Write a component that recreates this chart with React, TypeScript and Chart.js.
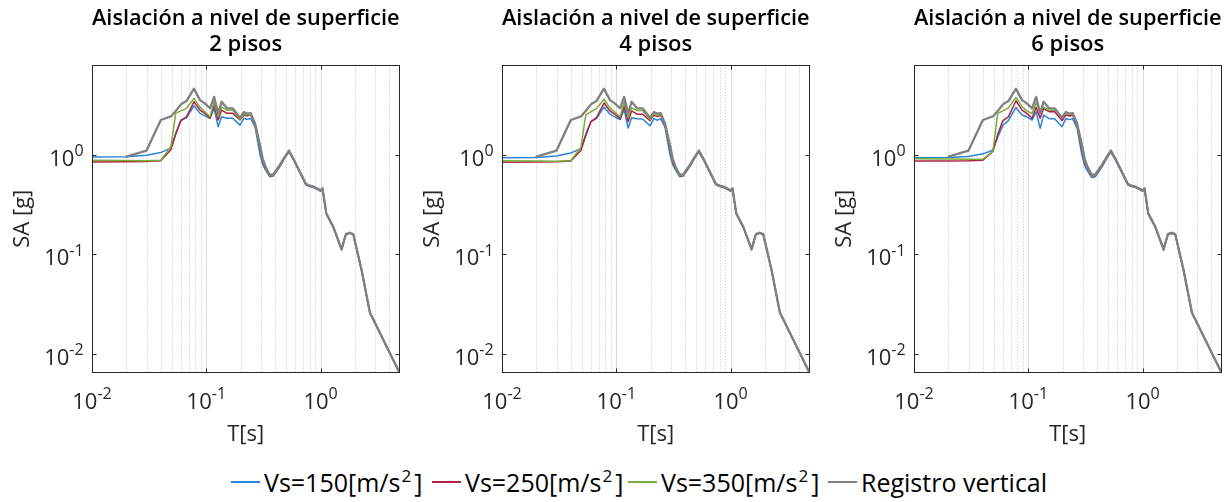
import { useEffect, useRef } from 'react';
import { Chart, registerables } from 'chart.js';

Chart.register(...registerables);

// Periods T [s] shared by every spectrum
const periods = [
  0.01, 0.02, 0.03, 0.04, 0.049, 0.054, 0.06, 0.067, 0.078, 0.088, 0.097, 0.108,
  0.117, 0.127, 0.136, 0.152, 0.17, 0.197, 0.213, 0.23, 0.244, 0.267, 0.295, 0.311,
  0.326, 0.359, 0.385, 0.44, 0.487, 0.528, 0.576, 0.659, 0.743, 0.8, 0.861, 0.93,
  1.0, 1.04, 1.12, 1.29, 1.526, 1.665, 1.8, 1.93, 2.28, 2.7, 4.9,
];

// Recorded vertical spectrum SA [g] (starts at T = 0.02 s)
const registroVertical = [
  null, 0.955, 1.1, 2.23, 2.42, 2.75, 3.2, 3.45, 4.6, 3.53, 3.27, 2.92,
  3.81, 2.6, 3.4, 2.92, 2.92, 2.35, 2.68, 2.58, 2.62, 2.06, 1.25, 0.92,
  0.78, 0.626, 0.636, 0.79, 0.955, 1.1, 0.92, 0.675, 0.51, 0.49, 0.48, 0.46,
  0.44, 0.46, 0.259, 0.19, 0.113, 0.16, 0.165, 0.16, 0.07, 0.0261, 0.0065,
];

// 2 pisos
const vs150Pisos2 = [
  0.95, 0.955, 0.99, 1.05, 1.17, 1.64, 2.23, 2.35, 3.1, 2.6, 2.45, 2.32,
  2.92, 1.91, 2.4, 2.32, 2.32, 1.98, 2.32, 2.26, 2.32, 1.9, 1.0, 0.8,
  0.72, 0.6, 0.61, 0.76, 0.93, 1.07, 0.9, 0.66, 0.5, 0.48, 0.47, 0.45,
  0.43, 0.45, 0.255, 0.187, 0.111, 0.158, 0.163, 0.158, 0.069, 0.0258, 0.0065,
];
const vs250Pisos2 = [
  0.845, 0.85, 0.855, 0.87, 1.12, 1.6, 2.2, 2.4, 3.4, 2.8, 2.6, 2.32,
  3.15, 2.23, 2.8, 2.6, 2.6, 2.23, 2.5, 2.45, 2.55, 2.0, 1.15, 0.85,
  0.75, 0.61, 0.62, 0.77, 0.94, 1.08, 0.91, 0.665, 0.5, 0.485, 0.475, 0.455,
  0.435, 0.455, 0.256, 0.188, 0.112, 0.159, 0.164, 0.159, 0.0695, 0.026, 0.0065,
];
const vs350Pisos2 = [
  0.88, 0.875, 0.87, 0.88, 1.2, 2.6, 2.75, 2.92, 3.67, 3.0, 2.7, 2.4,
  3.4, 2.4, 3.0, 2.8, 2.8, 2.26, 2.56, 2.5, 2.56, 2.02, 1.2, 0.88,
  0.77, 0.615, 0.625, 0.78, 0.945, 1.09, 0.915, 0.67, 0.505, 0.488, 0.477, 0.457,
  0.437, 0.457, 0.257, 0.189, 0.112, 0.159, 0.164, 0.159, 0.0697, 0.026, 0.0065,
];

// 4 pisos
const vs150Pisos4 = [
  0.93, 0.935, 0.97, 1.04, 1.15, 1.6, 2.15, 2.3, 3.0, 2.55, 2.4, 2.25,
  2.85, 1.85, 2.35, 2.3, 2.28, 1.95, 2.3, 2.22, 2.3, 1.88, 1.0, 0.8,
  0.72, 0.6, 0.61, 0.76, 0.93, 1.07, 0.9, 0.66, 0.5, 0.48, 0.47, 0.45,
  0.43, 0.45, 0.255, 0.187, 0.111, 0.158, 0.163, 0.158, 0.069, 0.0258, 0.0065,
];
const vs250Pisos4 = [
  0.84, 0.845, 0.85, 0.865, 1.1, 1.55, 2.15, 2.35, 3.3, 2.75, 2.55, 2.3,
  3.1, 2.15, 2.75, 2.55, 2.55, 2.2, 2.48, 2.42, 2.5, 1.98, 1.15, 0.85,
  0.75, 0.61, 0.62, 0.77, 0.94, 1.08, 0.91, 0.665, 0.5, 0.485, 0.475, 0.455,
  0.435, 0.455, 0.256, 0.188, 0.112, 0.159, 0.164, 0.159, 0.0695, 0.026, 0.0065,
];
const vs350Pisos4 = [
  0.87, 0.865, 0.86, 0.875, 1.18, 2.5, 2.7, 2.9, 3.6, 2.95, 2.68, 2.4,
  3.35, 2.38, 2.95, 2.78, 2.78, 2.25, 2.55, 2.48, 2.55, 2.0, 1.2, 0.88,
  0.77, 0.615, 0.625, 0.78, 0.945, 1.09, 0.915, 0.67, 0.505, 0.488, 0.477, 0.457,
  0.437, 0.457, 0.257, 0.189, 0.112, 0.159, 0.164, 0.159, 0.0697, 0.026, 0.0065,
];

// 6 pisos
const vs150Pisos6 = [
  0.93, 0.935, 0.96, 1.02, 1.11, 1.5, 1.98, 2.2, 2.98, 2.5, 2.4, 2.23,
  2.7, 1.84, 2.5, 2.3, 2.3, 1.91, 2.3, 2.25, 2.3, 1.85, 0.98, 0.78,
  0.7, 0.59, 0.6, 0.75, 0.92, 1.06, 0.89, 0.655, 0.5, 0.48, 0.47, 0.45,
  0.43, 0.45, 0.254, 0.186, 0.11, 0.157, 0.162, 0.157, 0.0685, 0.0257, 0.0065,
];
const vs250Pisos6 = [
  0.865, 0.865, 0.87, 0.88, 1.08, 1.6, 2.2, 2.4, 3.48, 2.8, 2.6, 2.32,
  3.0, 2.32, 2.9, 2.7, 2.7, 2.2, 2.5, 2.45, 2.5, 1.98, 1.12, 0.84,
  0.75, 0.61, 0.62, 0.77, 0.94, 1.08, 0.91, 0.665, 0.5, 0.485, 0.475, 0.455,
  0.435, 0.455, 0.256, 0.188, 0.112, 0.159, 0.164, 0.159, 0.0695, 0.026, 0.0065,
];
const vs350Pisos6 = [
  0.91, 0.905, 0.9, 0.9, 1.08, 2.6, 2.75, 2.95, 3.76, 3.05, 2.75, 2.6,
  3.3, 2.7, 3.0, 2.8, 2.8, 2.4, 2.6, 2.55, 2.6, 2.05, 1.18, 0.87,
  0.77, 0.615, 0.625, 0.78, 0.945, 1.09, 0.915, 0.67, 0.505, 0.488, 0.477, 0.457,
  0.437, 0.457, 0.257, 0.189, 0.112, 0.159, 0.164, 0.159, 0.0697, 0.026, 0.0065,
];

const titleLine = 'Aislación a nivel de superficie';
const panelSubtitles = ['2 pisos', '4 pisos', '6 pisos'];
const panelSeries = [
  [vs150Pisos2, vs250Pisos2, vs350Pisos2],
  [vs150Pisos4, vs250Pisos4, vs350Pisos4],
  [vs150Pisos6, vs250Pisos6, vs350Pisos6],
];

const seriesLabels = ['Vs=150[m/s^2]', 'Vs=250[m/s^2]', 'Vs=350[m/s^2]', 'Registro vertical'];
const seriesColors = ['#2a84d8', '#b02040', '#78ae38', '#808080'];
const seriesWidths = [1.5, 1.5, 1.5, 2.3];

const xDecadeTicks = [0.01, 0.1, 1];
const yDecadeTicks = [0.01, 0.1, 1];
const xMinorGrid = [
  0.02, 0.03, 0.04, 0.05, 0.06, 0.07, 0.08, 0.09,
  0.2, 0.3, 0.4, 0.5, 0.6, 0.7, 0.8, 0.9,
  2, 3, 4,
];
const xLimits = [0.01, 4.9];
const yLimits = [0.0065, 8];
const xAxisTitle = 'T[s]';
const yAxisTitle = 'SA [g]';

const FONT = "'Open Sans', 'Noto Sans', sans-serif";
const AXIS_COLOR = '#262626';
const CANVAS_W = 410;
const CANVAS_H = 460;
const PANEL_LEFTS = [0, 410, 822];
const LEGEND_LEFTS = [231, 432, 628, 828];

const toPoints = (vals: (number | null)[]) =>
  periods
    .map((t, i) => ({ x: t, y: vals[i] }))
    .filter((p) => p.y !== null) as { x: number; y: number }[];

const asLabel = (s: string) => s.replace('^2', '²');

function drawPower(
  ctx: CanvasRenderingContext2D,
  value: number,
  x: number,
  baseline: number,
  align: 'center' | 'right',
) {
  const exp = String(Math.round(Math.log10(value)));
  ctx.font = `22px ${FONT}`;
  const wBase = ctx.measureText('10').width;
  ctx.font = `16px ${FONT}`;
  const wExp = ctx.measureText(exp).width;
  const total = wBase + wExp;
  const start = align === 'center' ? x - total / 2 : x - total;
  ctx.textAlign = 'left';
  ctx.textBaseline = 'alphabetic';
  ctx.font = `22px ${FONT}`;
  ctx.fillText('10', start, baseline);
  ctx.font = `16px ${FONT}`;
  ctx.fillText(exp, start + wBase, baseline - 9.7);
}

// Axes frame: log grid, inner ticks, box, tick labels and axis titles
const axesFramePlugin = {
  id: 'axesFrame',
  beforeDatasetsDraw(chart: any) {
    const { ctx, chartArea: a, scales } = chart;
    const xs = scales.x;
    ctx.save();
    ctx.lineWidth = 1;
    ctx.strokeStyle = 'rgba(38,38,38,0.28)';
    ctx.setLineDash([1, 2]);
    for (const v of xMinorGrid) {
      const px = Math.round(xs.getPixelForValue(v)) + 0.5;
      ctx.beginPath();
      ctx.moveTo(px, a.top);
      ctx.lineTo(px, a.bottom);
      ctx.stroke();
    }
    ctx.setLineDash([]);
    ctx.strokeStyle = '#dcdcdc';
    for (const v of xDecadeTicks) {
      const px = Math.round(xs.getPixelForValue(v)) + 0.5;
      ctx.beginPath();
      ctx.moveTo(px, a.top);
      ctx.lineTo(px, a.bottom);
      ctx.stroke();
    }
    ctx.restore();
  },
  afterDraw(chart: any) {
    const { ctx, chartArea: a, scales } = chart;
    const xs = scales.x;
    const ys = scales.y;
    const L = Math.round(a.left) + 0.5;
    const R = Math.round(a.right) - 0.5;
    const T = Math.round(a.top) + 0.5;
    const B = Math.round(a.bottom) - 0.5;
    ctx.save();
    ctx.strokeStyle = AXIS_COLOR;
    ctx.lineWidth = 1;
    ctx.strokeRect(L, T, R - L, B - T);
    const tick = 4;
    ctx.beginPath();
    for (const v of xDecadeTicks) {
      const px = Math.round(xs.getPixelForValue(v)) + 0.5;
      ctx.moveTo(px, B);
      ctx.lineTo(px, B - tick);
      ctx.moveTo(px, T);
      ctx.lineTo(px, T + tick);
    }
    for (const v of yDecadeTicks) {
      const py = Math.round(ys.getPixelForValue(v)) + 0.5;
      ctx.moveTo(L, py);
      ctx.lineTo(L + tick, py);
      ctx.moveTo(R, py);
      ctx.lineTo(R - tick, py);
    }
    ctx.stroke();

    ctx.fillStyle = AXIS_COLOR;
    for (const v of xDecadeTicks) {
      drawPower(ctx, v, xs.getPixelForValue(v), a.bottom + 36.3, 'center');
    }
    for (const v of yDecadeTicks) {
      const py = ys.getPixelForValue(v);
      drawPower(ctx, v, a.left - 8.4, py + 11, 'right');
    }

    ctx.font = `22px ${FONT}`;
    ctx.textAlign = 'center';
    ctx.textBaseline = 'alphabetic';
    ctx.fillText(xAxisTitle, (a.left + a.right) / 2, a.bottom + 68);
    ctx.translate(a.left - 63, (a.top + a.bottom) / 2);
    ctx.rotate(-Math.PI / 2);
    ctx.fillText(yAxisTitle, 0, 0);
    ctx.restore();
  },
};

function LegendLabel({ text }: { text: string }) {
  const parts = text.split('^2');
  if (parts.length === 1) return <span>{text}</span>;
  return (
    <span>
      {parts[0]}
      <span
        style={{
          fontSize: 17,
          lineHeight: 0,
          position: 'relative',
          top: -10,
          marginLeft: 1,
          marginRight: 3,
        }}
      >
        2
      </span>
      {parts[1]}
    </span>
  );
}

export default function App() {
  const refs = [useRef<HTMLCanvasElement>(null), useRef<HTMLCanvasElement>(null), useRef<HTMLCanvasElement>(null)];

  useEffect(() => {
    const charts = refs.map((ref, p) => {
      const colored = panelSeries[p];
      const datasets = [
        ...colored.map((vals, s) => ({
          label: asLabel(seriesLabels[s]),
          data: toPoints(vals),
          borderColor: seriesColors[s],
          borderWidth: seriesWidths[s],
          order: 4 - s,
        })),
        {
          label: seriesLabels[3],
          data: toPoints(registroVertical),
          borderColor: seriesColors[3],
          borderWidth: seriesWidths[3],
          order: 1,
        },
      ];
      return new Chart(ref.current as HTMLCanvasElement, {
        type: 'line',
        data: { datasets },
        options: {
          responsive: false,
          animation: false,
          devicePixelRatio: 1,
          parsing: false,
          elements: {
            point: { radius: 0 },
            line: { tension: 0, borderJoinStyle: 'round', borderCapStyle: 'round' },
          },
          layout: {
            padding: { left: 92, right: CANVAS_W - 92 - 307.5, top: 0, bottom: CANVAS_H - 372.7 },
          },
          plugins: {
            legend: { display: false },
            tooltip: { enabled: false },
            title: {
              display: true,
              text: [titleLine, panelSubtitles[p]],
              color: '#000',
              font: { family: FONT, size: 22, weight: '600', lineHeight: 1.2 },
              padding: { top: 5.5, bottom: 6.4 },
            },
          },
          scales: {
            x: {
              type: 'logarithmic',
              min: xLimits[0],
              max: xLimits[1],
              ticks: { display: false },
              grid: { display: false },
              border: { display: false },
              afterFit: (s: any) => {
                s.height = 0;
              },
            },
            y: {
              type: 'logarithmic',
              min: yLimits[0],
              max: yLimits[1],
              ticks: { display: false },
              grid: { display: false },
              border: { display: false },
              afterFit: (s: any) => {
                s.width = 0;
              },
            },
          },
        },
        plugins: [axesFramePlugin],
      } as any);
    });
    return () => charts.forEach((c) => c.destroy());
  }, []);

  return (
    <div
      style={{
        position: 'fixed',
        left: 0,
        top: 0,
        width: 1232,
        height: 502,
        background: '#fff',
        overflow: 'hidden',
      }}
    >
      {refs.map((ref, i) => (
        <canvas
          key={i}
          ref={ref}
          width={CANVAS_W}
          height={CANVAS_H}
          style={{ position: 'absolute', left: PANEL_LEFTS[i], top: 0, width: CANVAS_W, height: CANVAS_H }}
        />
      ))}
      {seriesLabels.map((label, i) => (
        <div
          key={label}
          style={{
            position: 'absolute',
            left: LEGEND_LEFTS[i],
            top: 465,
            height: 34,
            display: 'flex',
            alignItems: 'center',
            fontFamily: FONT,
            fontSize: 25,
            lineHeight: '34px',
            color: '#000',
            whiteSpace: 'nowrap',
          }}
        >
          <span
            style={{
              display: 'inline-block',
              width: 29,
              height: i === 3 ? 2 : 1.5,
              background: seriesColors[i],
              marginRight: 4,
            }}
          />
          <LegendLabel text={label} />
        </div>
      ))}
    </div>
  );
}
